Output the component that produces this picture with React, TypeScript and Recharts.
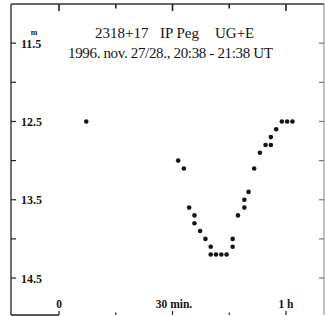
import { ScatterChart, Scatter, XAxis, YAxis, ReferenceLine } from 'recharts';

// minutes after 20:38 UT
const times = [7.2, 31.5, 33.0, 34.4, 35.8, 35.8, 37.3, 38.7, 40.1, 40.1, 41.5, 42.9, 44.3, 45.9, 45.9, 47.3, 49.0, 49.0, 50.1, 51.6, 53.1, 54.6, 56.0, 56.0, 57.4, 58.9, 60.3, 61.7];
// magnitudes
const mags = [12.5, 13.0, 13.1, 13.6, 13.7, 13.8, 13.9, 14.0, 14.1, 14.2, 14.2, 14.2, 14.2, 14.1, 14.0, 13.7, 13.6, 13.5, 13.4, 13.1, 12.9, 12.8, 12.8, 12.7, 12.6, 12.5, 12.5, 12.5];

const timeTicks = [0, 15, 30, 45, 60];
const timeLabels: Record<number, string> = { 0: '0', 30: '30 min.', 60: '1 h' };
const magTicks = [11.5, 12, 12.5, 13, 13.5, 14, 14.5];

const xDomain = [-12.7, 70.05];
const yDomain = [11.0, 14.972];

const points = times.map((t, i) => ({ t, m: mags[i] }));

const serif = '"Liberation Serif", "DejaVu Serif", serif';
const ink = '#151515';

const TopTick = ({ x, y, payload }: any) => {
  const major = payload.value % 30 === 0;
  return <rect x={x - 0.8} y={y} width={1.6} height={major ? 7 : 4.5} fill="#222" />;
};

const BottomTick = ({ x, y, payload }: any) => {
  const major = payload.value % 30 === 0;
  const label = timeLabels[payload.value];
  return (
    <g>
      <line x1={x} x2={x} y1={y} y2={y - (major ? 4 : 2.5)} stroke="#222" strokeWidth={1.2} />
      {label && (
        <text x={payload.value === 30 ? x + 1.5 : x} y={y - 7.5} textAnchor="middle" fontSize={11.5} fontWeight="bold" fontFamily={serif} fill={ink}>
          {label}
        </text>
      )}
    </g>
  );
};

const LeftTick = ({ x, y, payload }: any) => {
  const v = payload.value;
  const labelled = Math.abs(v % 1 - 0.5) < 0.01;
  return (
    <g>
      <line x1={x} x2={x + 5} y1={y} y2={y} stroke="#222" strokeWidth={1.2} />
      {labelled && (
        <text x={x + 10} y={y + 4.5} fontSize={12} fontWeight="bold" fontFamily={serif} fill={ink}>
          {String(v)}
        </text>
      )}
      {v === 11.5 && (
        <text x={x + 23} y={y - 8} textAnchor="middle" fontSize={8} fontWeight="bold" fontFamily={serif} fill={ink}>
          m
        </text>
      )}
    </g>
  );
};

const RightTick = ({ x, y }: any) => (
  <line x1={x - 5} x2={x} y1={y} y2={y} stroke="#777" strokeWidth={1.2} />
);

const Dot = (props: any) => <circle cx={props.cx} cy={props.cy} r={2.3} fill={ink} />;
const NoDot = () => <g />;

export default function App() {
  return (
    <div style={{ position: 'absolute', left: 0, top: 0, width: 325, height: 316, background: '#fff' }}>
      <ScatterChart width={325} height={316} margin={{ top: 3, right: 0, bottom: 0, left: 10 }}>
        <XAxis
          xAxisId="b"
          type="number"
          dataKey="t"
          domain={xDomain}
          allowDataOverflow
          orientation="bottom"
          height={1}
          ticks={timeTicks}
          interval={0}
          tickSize={0}
          tickMargin={0}
          axisLine={false}
          tick={BottomTick}
        />
        <XAxis
          xAxisId="t"
          type="number"
          dataKey="t"
          domain={xDomain}
          allowDataOverflow
          orientation="top"
          height={1}
          ticks={timeTicks}
          interval={0}
          tickSize={0}
          tickMargin={0}
          axisLine={{ stroke: '#333', strokeWidth: 1.3 }}
          tick={TopTick}
        />
        <YAxis
          yAxisId="l"
          type="number"
          dataKey="m"
          domain={yDomain}
          reversed
          allowDataOverflow
          width={1}
          ticks={magTicks}
          interval={0}
          tickSize={0}
          tickMargin={0}
          axisLine={{ stroke: '#222', strokeWidth: 1.3 }}
          tick={LeftTick}
        />
        <YAxis
          yAxisId="r"
          type="number"
          dataKey="m"
          domain={yDomain}
          reversed
          allowDataOverflow
          orientation="right"
          width={1}
          ticks={magTicks}
          interval={0}
          tickSize={0}
          tickMargin={0}
          axisLine={{ stroke: '#999', strokeWidth: 1.2 }}
          tick={RightTick}
        />
        <ReferenceLine
          xAxisId="b"
          yAxisId="l"
          segment={[{ x: xDomain[0], y: yDomain[1] }, { x: 0, y: yDomain[1] }]}
          stroke="#222"
          strokeWidth={1.3}
          ifOverflow="visible"
        />
        <Scatter xAxisId="t" yAxisId="r" data={points} shape={NoDot} isAnimationActive={false} />
        <Scatter xAxisId="b" yAxisId="l" data={points} shape={Dot} isAnimationActive={false} />
      </ScatterChart>
      <svg width={325} height={316} style={{ position: 'absolute', left: 0, top: 0, pointerEvents: 'none' }}>
        <g fontFamily={serif} fontSize={15} fill={ink}>
          <text x={95} y={38}>2318+17</text>
          <text x={160} y={38}>IP Peg</text>
          <text x={215} y={38}>UG+E</text>
          <text x={68} y={57.5} textLength={205} lengthAdjust="spacing">1996. nov. 27/28., 20:38 - 21:38 UT</text>
        </g>
      </svg>
    </div>
  );
}
